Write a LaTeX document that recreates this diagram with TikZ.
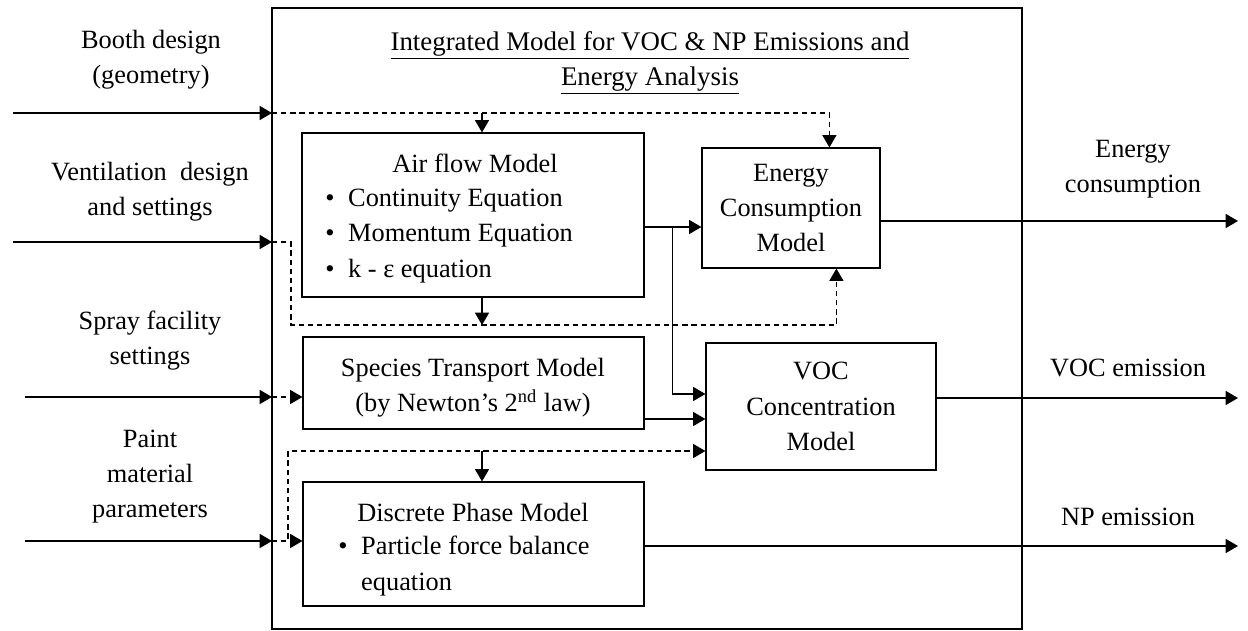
\documentclass[tikz,border=0pt]{standalone}
\usepackage{fontspec}
\setmainfont{Liberation Serif}
\usetikzlibrary{arrows.meta,calc}
\tikzset{box/.style={draw,line width=0.7pt,inner sep=0pt,align=center},
  txt/.style={inner sep=0pt,align=center},
  arr/.style={line width=0.7pt,-{Triangle[length=7pt,width=8pt]}},
  dsh/.style={line width=0.7pt,dash pattern=on 3pt off 2.2pt}}
\newcommand{\bul}{\makebox[13pt][l]{\textbullet}}
\begin{document}
\begin{tikzpicture}[x=0.02cm,y=-0.02cm,font=\fontsize{15}{20}\selectfont]
\useasboundingbox (0,0) rectangle (1248,631);
\node[box,minimum width=15cm,minimum height=12.42cm] (frame) at (647,318.5) {};
\node[txt,font=\fontsize{15.3}{20}\selectfont] (title) at (650,63) {\underline{Integrated Model for VOC \& NP Emissions and}\\\underline{Energy Analysis}};
\node[box,minimum width=6.84cm,minimum height=3.28cm] (air) at (473,215) {};
\node[txt] (airT) at (475,163) {Air flow Model};
\node[txt,align=left,anchor=west] (airL) at (325,236) {\bul Continuity Equation\\\bul Momentum Equation\\\bul k - ε equation};
\node[box,minimum width=3.56cm,minimum height=2.4cm] (energy) at (791,208) {Energy\\Consumption\\Model};
\node[box,minimum width=6.82cm,minimum height=1.84cm] (species) at (473.5,383) {};
\node[txt] (speciesT) at (473,388) {Species Transport Model\\(by Newton’s 2\textsuperscript{nd} law)};
\node[box,minimum width=4.6cm,minimum height=2.54cm] (voc) at (821,406.5) {VOC\\Concentration\\Model};
\node[box,minimum width=6.82cm,minimum height=2.48cm] (dpm) at (473.5,544) {};
\node[txt] (dpmT) at (473,512) {Discrete Phase Model};
\node[txt,align=left,anchor=west] (dpmL) at (338,566) {\bul Particle force balance\\\hspace*{13pt}equation};
\node[txt] (booth) at (151,59.5) {Booth design\\(geometry)};
\node[txt] (vent) at (150,191.5) {Ventilation\ \ design\\and settings};
\node[txt] (spray) at (150,340.5) {Spray facility\\settings};
\node[txt] (paint) at (150,476.5) {Paint\\material\\parameters};
\node[txt] (eLbl) at (1133,169) {Energy\\consumption};
\node[txt] (vLbl) at (1128,368) {VOC emission};
\node[txt] (nLbl) at (1128,517) {NP emission};
\coordinate (bIn) at (13,113); \coordinate (bEnd) at (272,113); \coordinate (jB) at (482,113);
\coordinate (vIn) at (13,242); \coordinate (vEnd) at (272,242); \coordinate (vLoop) at (291,325); \coordinate (jV) at (482,325);
\coordinate (sIn) at (25,397); \coordinate (sEnd) at (272,397);
\coordinate (pIn) at (25,541); \coordinate (pEnd) at (272,541); \coordinate (pLoop) at (288,451); \coordinate (jP) at (482,451);
\coordinate (eOut) at (1238,221); \coordinate (vOut) at (1238,398); \coordinate (nOut) at (1238,546);
\draw[arr] (bIn) -- (bEnd); \draw[arr] (vIn) -- (vEnd); \draw[arr] (sIn) -- (sEnd); \draw[arr] (pIn) -- (pEnd);
\draw[dsh,arr] (bEnd) -| ($(energy.north west)+(128,0)$);
\draw[arr] (jB) -- (jB |- air.north);
\draw[dsh,arr] (vEnd) -| (vLoop) -| ($(energy.south west)+(135,0)$);
\draw[arr] (air.south -| jV) -- (jV);
\draw[dsh,arr] (sEnd) -- (sEnd -| species.west);
\draw[dsh,arr] (pEnd) -- (pEnd -| dpm.west);
\draw[dsh,arr] (pEnd) -| (pLoop) -- (pLoop -| voc.west);
\draw[arr] (jP) -- (jP |- dpm.north);
\coordinate (aOut) at ($(air.east)+(0,12)$); \coordinate (aSplit) at ($(aOut)+(28,0)$);
\draw[arr] (aOut) -- (aOut -| energy.west);
\draw[arr] (aSplit) |- ($(voc.west)+(0,-12.5)$);
\coordinate (sOut) at ($(species.east)+(0,36)$);
\draw[arr] (sOut) -- (sOut -| voc.west);
\draw[arr] (energy.east |- eOut) -- (eOut);
\draw[arr] (voc.east |- vOut) -- (vOut);
\draw[arr] (dpm.east |- nOut) -- (nOut);
\end{tikzpicture}
\end{document}
